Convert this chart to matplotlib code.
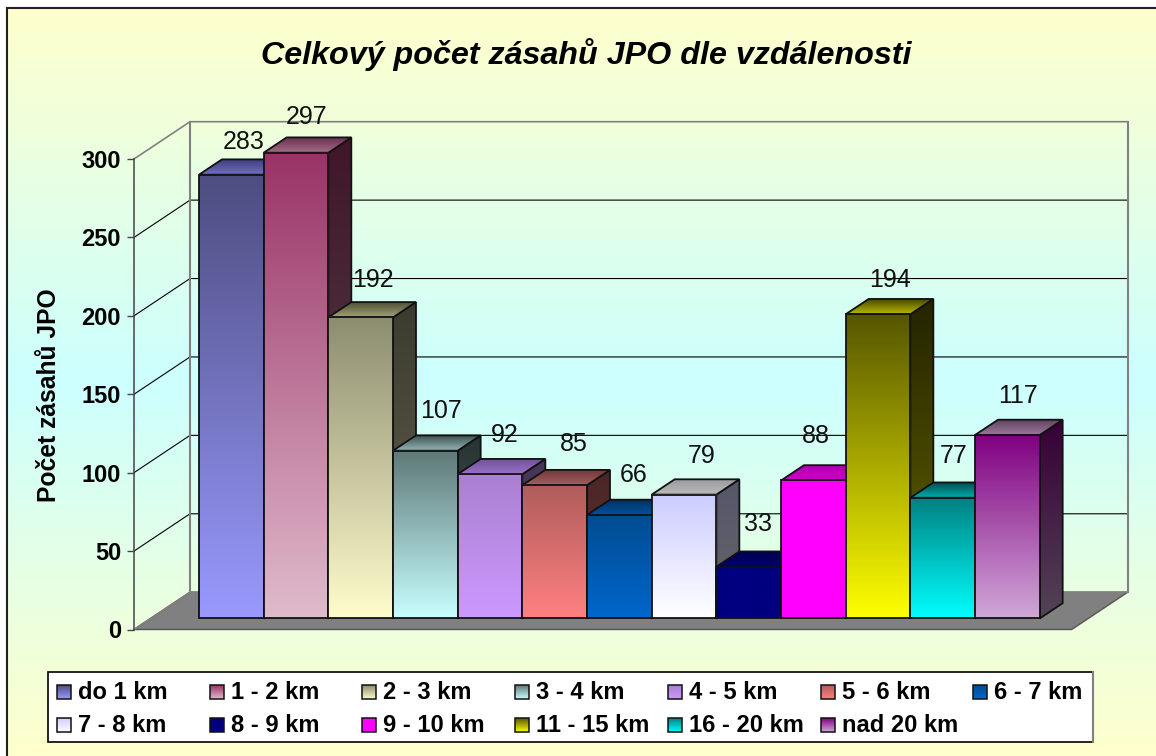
import numpy as np
import matplotlib
matplotlib.use("Agg")
import matplotlib.pyplot as plt
from matplotlib.colors import to_rgb, LinearSegmentedColormap
from matplotlib.patches import Polygon, Rectangle

plt.rcParams['font.family'] = ['Liberation Sans', 'DejaVu Sans']

W, H = 1156, 756

categories = ["do 1 km", "1 - 2 km", "2 - 3 km", "3 - 4 km", "4 - 5 km", "5 - 6 km", "6 - 7 km",
              "7 - 8 km", "8 - 9 km", "9 - 10 km", "11 - 15 km", "16 - 20 km", "nad 20 km"]
values = [283, 297, 192, 107, 92, 85, 66, 79, 33, 88, 194, 77, 117]
y_ticks = [0, 50, 100, 150, 200, 250, 300]

# barvy: predni stena nahore / dole, horni plocha vzadu / vpredu
front_top = ["#4D4D80", "#993366", "#8C8C70", "#5F7878", "#AA80D0", "#B05C5C", "#004C90",
             "#CCCCFF", "#000080", "#FF00FF", "#555500", "#008080", "#800080"]
front_bot = ["#9999FF", "#E0BBCC", "#FFFCCC", "#C8FFFF", "#CC99FF", "#FF8080", "#0066CC",
             "#FFFFFF", "#000080", "#FF00FF", "#FFFF00", "#00FFFF", "#D0A8D8"]
cap_back = ["#3C3C78", "#6E2E50", "#4A4A30", "#3A5050", "#70509A", "#703535", "#00305F",
            "#9A9A9F", "#000050", "#B000B0", "#404000", "#004A4A", "#604060"]
cap_front = ["#7272C8", "#A06F88", "#A0A078", "#98B8B8", "#9A70C8", "#A06060", "#00509F",
             "#BDBDBD", "#000070", "#CC00CC", "#B8B800", "#00B0B0", "#9A7A98"]
# posun popisku od stredu sloupce (px)
label_dx = [12, 11, 12, 16, 15, 19, 14, 18, 9, 2, 12, 11, 11]
label_dy = [33, 36, 37, 40, 39, 41, 40, 39, 43, 44, 34, 42, 39]


def vgrad(ax, extent, c_top, c_bot, clip=None, z=1):
    # svisly gradient, pripadne oriznuty polygonem
    cmap = LinearSegmentedColormap.from_list("g", [c_top, c_bot])
    im = ax.imshow(np.linspace(0, 1, 256).reshape(-1, 1), cmap=cmap, extent=extent,
                   aspect='auto', origin='upper', interpolation='bilinear', zorder=z)
    im.set_clip_box(ax.figure.bbox)
    if clip is not None:
        im.set_clip_path(clip)
    return im


def scale(c, f):
    return tuple(x * f for x in to_rgb(c))


fig = plt.figure(figsize=(W / 100, H / 100), dpi=100, facecolor='white')

# pozadi a ramecek, legenda v pixelech
bg = fig.add_axes([0, 0, 1, 1])
bg.set_xlim(0, W)
bg.set_ylim(H, 0)
bg.axis('off')
vgrad(bg, (7, W, 382, 8), "#FFFFCC", "#CCFFFF")
vgrad(bg, (7, W, H, 382), "#CCFFFF", "#FFFFCC")
bg.plot([7, 7], [H, 8], color='#222222', lw=1.5)
bg.plot([7, W], [8, 8], color='#222222', lw=1.5)
bg.set_xlim(0, W)
bg.set_ylim(H, 0)

# hlavni osa: predni hrana podlahy
x_left, x_right, y_top, y_bot = 134, 1071.7, 159, 629.5
ax = fig.add_axes([x_left / W, 1 - y_bot / H, (x_right - x_left) / W, (y_bot - y_top) / H])
ax.patch.set_visible(False)
ax.set_xlim(-0.75, 13.75)
ax.set_ylim(0, 300)
px_x = (x_right - x_left) / 14.5
px_y = (y_bot - y_top) / 300
DEPTH_X = 56 / px_x
DEPTH_Y = 37.3 / px_y
bar_near, bar_far = 0.295, 0.705


def proj(x, v, d):
    return (x + d * DEPTH_X, v + d * DEPTH_Y)


# podlaha
x0, x1 = -0.75, 13.75
ax.add_patch(Polygon([proj(x0, 0, 0), proj(x1, 0, 0), proj(x1, 0, 1), proj(x0, 0, 1)],
                     fc='#808080', ec='#555555', lw=1, clip_on=False, zorder=1))
# steny a mrizka
for v in y_ticks:
    col = '#808080' if v in (0, 300) else 'black'
    ax.plot(*zip(proj(x0, v, 0), proj(x0, v, 1), proj(x1, v, 1)), color=col,
            lw=1.2 if v in (0, 300) else 0.8, clip_on=False, zorder=1.5)
ax.plot(*zip(proj(x0, 0, 1), proj(x0, 300, 1)), color='#808080', lw=1.5, clip_on=False, zorder=1.5)
ax.plot(*zip(proj(x1, 0, 1), proj(x1, 300, 1)), color='#808080', lw=1.5, clip_on=False, zorder=1.5)

for sp in ['top', 'right', 'bottom']:
    ax.spines[sp].set_visible(False)
ax.spines['left'].set_color('#444444')
ax.spines['left'].set_linewidth(1.1)
ax.set_xticks([])
ax.set_yticks(y_ticks)
ax.tick_params(axis='y', length=5, width=1, color='#444444', pad=4.3)
for t in ax.get_yticklabels():
    t.set_fontsize(17)
    t.set_fontweight('bold')

# sloupce zleva doprava
edge = dict(ec='#111111', lw=1.3, fill=False, clip_on=False)
z = 2
for i, v in enumerate(values):
    near_l, near_r = i, i + 1
    base_side = [proj(near_r, 0, bar_near), proj(near_r, 0, bar_far),
                 proj(near_r, v, bar_far), proj(near_r, v, bar_near)]
    cap = [proj(near_l, v, bar_near), proj(near_r, v, bar_near),
           proj(near_r, v, bar_far), proj(near_l, v, bar_far)]
    n0 = proj(near_l, 0, bar_near)
    n1 = proj(near_r, v, bar_near)

    # bok
    side_patch = Polygon(base_side, transform=ax.transData, fc='none', ec='none')
    ext = (base_side[0][0], base_side[1][0], base_side[0][1], base_side[2][1])
    vgrad(ax, ext, scale(front_top[i], 0.42), scale(front_bot[i], 0.4), clip=side_patch, z=z)
    ax.add_patch(Polygon(base_side, zorder=z + 0.1, **edge))
    # horni plocha
    cap_patch = Polygon(cap, transform=ax.transData, fc='none', ec='none')
    ext = (cap[0][0], cap[2][0], cap[0][1], cap[2][1])
    vgrad(ax, ext, cap_back[i], cap_front[i], clip=cap_patch, z=z + 0.2)
    ax.add_patch(Polygon(cap, zorder=z + 0.3, **edge))
    # predni stena
    vgrad(ax, (n0[0], n1[0], n0[1], n1[1]), front_top[i], front_bot[i], z=z + 0.4)
    ax.add_patch(Rectangle(n0, 1, v, zorder=z + 0.5, **edge))
    z += 1

for i, v in enumerate(values):
    ax.annotate(str(v), proj(i + 0.5, v, bar_near),
                xytext=(label_dx[i] * 0.72, label_dy[i] * 0.72), textcoords='offset points',
                ha='center', va='center', fontsize=18, color='#111111', zorder=30,
                annotation_clip=False)

ax.set_xlim(-0.75, 13.75)
ax.set_ylim(0, 300)

# titulek a popisek osy
fig.text(586.5 / W, 1 - 55 / H, "Celkový počet zásahů JPO dle vzdálenosti", ha='center', va='center',
         fontsize=23.2, fontweight='bold', fontstyle='italic')
fig.text(49 / W, 1 - 395 / H, "Počet zásahů JPO", rotation=90, ha='center', va='center',
         fontsize=17.7, fontweight='bold')

# legenda - sloupce maji v originale stejnou sirku
lg = fig.add_axes([0, 0, 1, 1])
lg.patch.set_visible(False)
lg.set_xlim(0, W)
lg.set_ylim(H, 0)
lg.axis('off')
lg.add_patch(Rectangle((48, 672), 1045, 69.5, fc='white', ec='black', lw=1.2, zorder=1))
lg.plot([1093, 1093], [672, 741.5], color='#808080', lw=1.5, zorder=1.1)
for i, name in enumerate(categories):
    row, col = divmod(i, 7)
    sx = 57 + col * 152.7
    sy = 692 + row * 33
    vgrad(lg, (sx, sx + 14, sy + 7, sy - 7), front_top[i], front_bot[i], z=2)
    lg.add_patch(Rectangle((sx, sy - 7), 14, 14, fc='none', ec='#111111', lw=1.1, zorder=3))
    lg.text(sx + 21, sy + 0.5, name, ha='left', va='center', fontsize=17.1, fontweight='bold', zorder=3)
lg.set_xlim(0, W)
lg.set_ylim(H, 0)

fig.savefig("out.png", dpi=100)
